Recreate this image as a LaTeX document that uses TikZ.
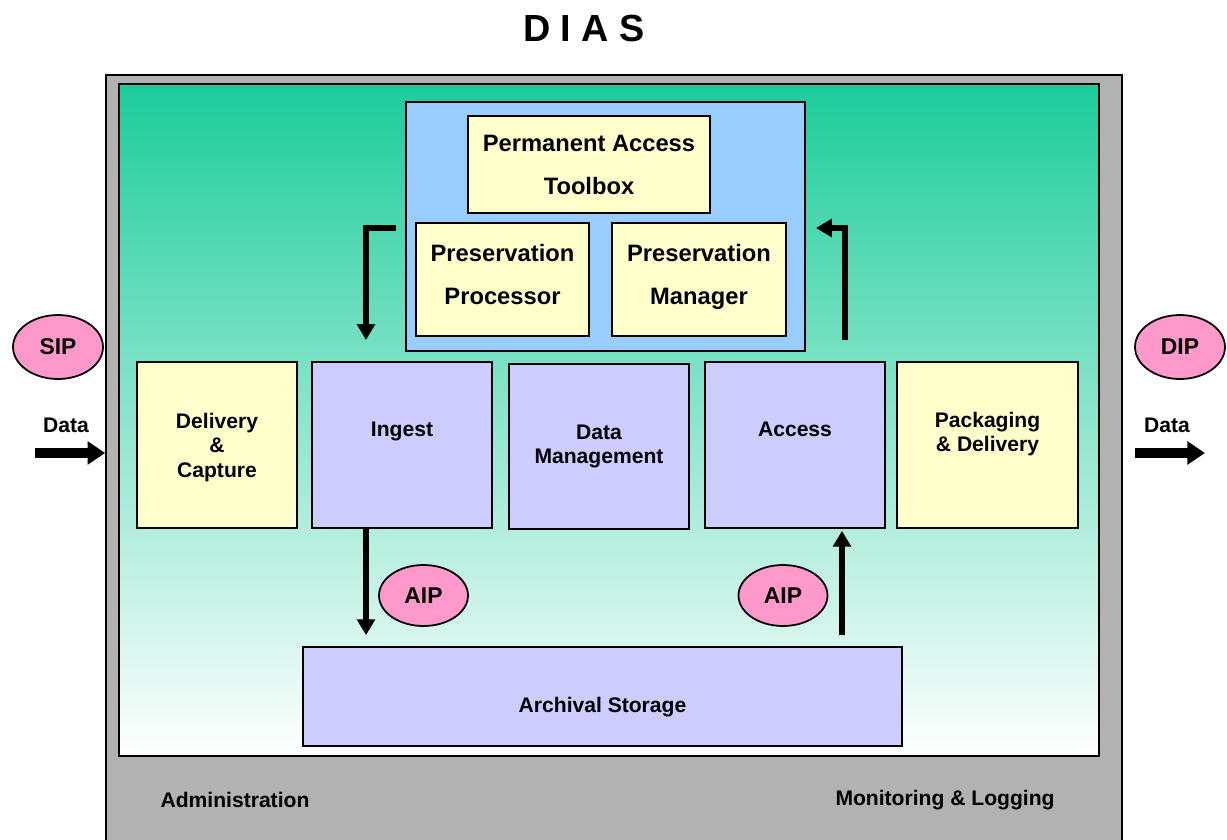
\documentclass[tikz,border=0pt]{standalone}
\usepackage{fontspec}
\setmainfont{Liberation Sans}
\usetikzlibrary{arrows.meta,shapes.geometric}

\definecolor{gris}{RGB}{178,178,178}
\definecolor{verde}{RGB}{28,204,154}
\definecolor{azul}{RGB}{153,204,255}
\definecolor{amarillo}{RGB}{255,255,204}
\definecolor{lila}{RGB}{204,204,255}
\definecolor{rosa}{RGB}{255,153,204}

\tikzset{
  caja/.style={draw, line width=1pt, inner sep=2pt, align=center, font=\fontsize{12}{14}\selectfont\bfseries},
  cajaamarilla/.style={caja, fill=amarillo},
  cajalila/.style={caja, fill=lila},
  cajapres/.style={caja, fill=amarillo, font=\fontsize{13.5}{24.5}\selectfont\bfseries},
  paquete/.style={draw, ellipse, fill=rosa, line width=1pt, inner sep=0pt, font=\fontsize{13}{15}\selectfont\bfseries},
  flecha/.style={line width=3.4pt, -{Triangle[width=10pt,length=9pt]}},
  flechadatos/.style={line width=6.2pt, -{Triangle[width=12.7pt,length=10pt]}},
  etiqueta/.style={font=\fontsize{12}{14}\selectfont\bfseries}
}

\begin{document}
\begin{tikzpicture}[x=0.02cm, y=-0.02cm]
\useasboundingbox (0,0) rectangle (1227,839);

% Titulo arriba
\node[font=\fontsize{21.5}{24}\selectfont\bfseries] (titulo) at (584,28) {D I A S};

% La caja gris se sale por abajo, asi que la recortamos con "clip" dentro de un scope.
\begin{scope}
\clip (0,0) rectangle (1227,839);
\node[draw, line width=1pt, fill=gris, minimum width=20.32cm, minimum height=15.5cm, inner sep=0pt] (dias) at (614,462.5) {};
\end{scope}

% Zona interior con degradado de verde a blanco
\node[draw, line width=1pt, top color=verde, bottom color=white, minimum width=19.6cm, minimum height=13.44cm, inner sep=0pt] (interior) at (609,420) {};

\node[etiqueta] (admin) at (235,800) {Administration};
\node[etiqueta] (monitor) at (945,800) {Monitoring \& Logging};

% Bloque azul de preservacion
\node[draw, line width=1pt, fill=azul, minimum width=7.98cm, minimum height=4.98cm, inner sep=0pt] (preservacion) at (605.5,226.5) {};
\node[cajapres, minimum width=4.84cm, minimum height=1.94cm, text depth=-0.12cm] (toolbox) at (589,164.5) {Permanent Access\\Toolbox};
\node[cajapres, minimum width=3.46cm, minimum height=2.26cm, text depth=0.2cm] (procesador) at (502.5,279.5) {Preservation\\Processor};
\node[cajapres, minimum width=3.48cm, minimum height=2.26cm, text depth=0.2cm] (gestor) at (699,279.5) {Preservation\\Manager};

% Fila de funciones
\node[cajaamarilla, minimum width=3.2cm, minimum height=3.32cm, text depth=-0.11cm] (captura) at (217,445) {Delivery\\\&\\Capture};
\node[cajalila, minimum width=3.6cm, minimum height=3.32cm, text depth=0.64cm] (ingesta) at (402,445) {Ingest};
\node[cajalila, minimum width=3.6cm, minimum height=3.3cm] (gestion) at (599,446.5) {Data\\Management};
\node[cajalila, minimum width=3.6cm, minimum height=3.32cm, text depth=0.64cm] (acceso) at (795,445) {Access};
\node[cajaamarilla, minimum width=3.62cm, minimum height=3.32cm, text depth=0.52cm] (empaquetado) at (987.5,445) {Packaging\\\& Delivery};

% Almacenamiento
\node[cajalila, minimum width=11.98cm, minimum height=1.98cm, text height=0.73cm] (almacen) at (602.5,696.5) {Archival Storage};

% Paquetes de informacion
\node[paquete, minimum width=1.8cm, minimum height=1.28cm] (sip) at (58,347) {SIP};
\node[paquete, minimum width=1.8cm, minimum height=1.28cm] (dip) at (1180,347) {DIP};
\node[paquete, minimum width=1.78cm, minimum height=1.22cm] (aipentra) at (423.5,595.5) {AIP};
\node[paquete, minimum width=1.78cm, minimum height=1.22cm] (aipsale) at (783,595.5) {AIP};

% Flechas de datos a los lados
\node[etiqueta] (datosentra) at (66,425) {Data};
\node[etiqueta] (datossale) at (1167,425) {Data};
\coordinate (entrada) at (35,453);
\draw[flechadatos] (entrada) -- (entrada -| dias.west);
\coordinate (salida) at (1135,453);
\coordinate (salidafin) at (1205,453);
\draw[flechadatos] (salida) -- (salidafin);

% Flechas en codo entre preservacion y las funciones
\coordinate (bajaini) at (396,228);
\coordinate (bajafin) at (366,340);
\draw[flecha] (bajaini) -| (bajafin);
\coordinate (subeini) at (845,340);
\coordinate (subefin) at (816,228);
\draw[flecha] (subeini) |- (subefin);

% Flechas verticales con el almacenamiento
\coordinate (xingesta) at (366,0);
\coordinate (xacceso) at (842,0);
\draw[flecha, shorten >=0.22cm] (ingesta.south -| xingesta) -- (almacen.north -| xingesta);
\draw[flecha, shorten <=0.22cm, shorten >=0.04cm] (almacen.north -| xacceso) -- (acceso.south -| xacceso);
\end{tikzpicture}
\end{document}
